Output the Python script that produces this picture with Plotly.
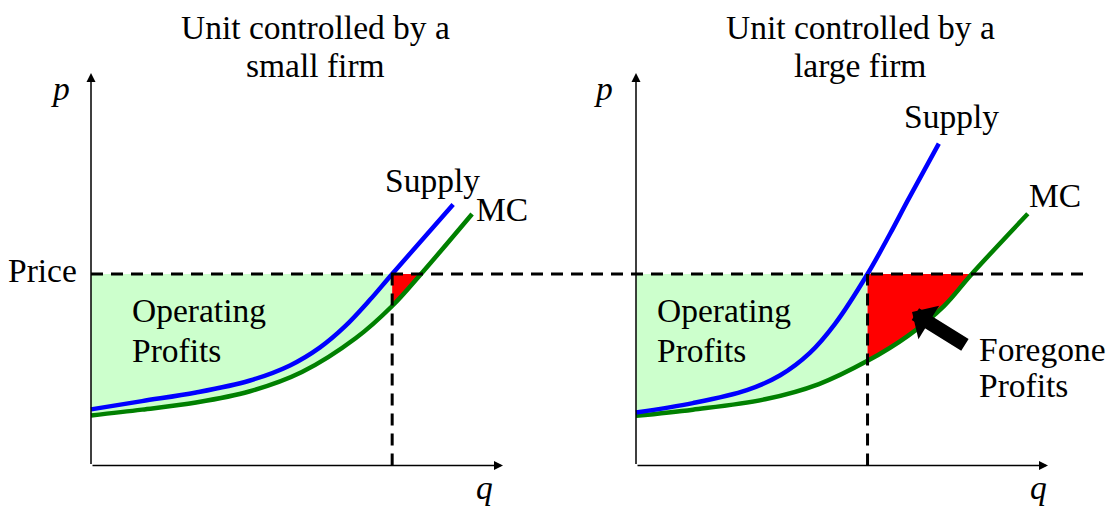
import plotly.graph_objects as go

# ---------------- data ----------------
PRICE = 4.88

# Left panel: unit controlled by a small firm
q_supply_small = [0, 1.24, 2.55, 3.84, 4.83, 5.56, 6.17, 6.77, 7.31, 8.79]
p_supply_small = [1.43, 1.64, 1.86, 2.16, 2.55, 3.01, 3.55, 4.22, 4.88, 6.65]
q_mc_small = [0, 1.24, 2.55, 3.84, 5.12, 6.43, 7.31, 8.01, 9.25]
p_mc_small = [1.276, 1.424, 1.605, 1.885, 2.382, 3.248, 4.064, 4.88, 6.408]
Q_STAR_SMALL = 7.31

# Right panel: unit controlled by a large firm
q_supply_large = [0, 1.38, 2.69, 3.50, 4.22, 4.83, 5.62, 6.17, 6.60, 7.35]
p_supply_large = [1.35, 1.59, 1.92, 2.30, 2.87, 3.61, 4.88, 5.91, 6.76, 8.20]
q_mc_large = [0, 1.38, 3.13, 4.44, 5.62, 6.60, 7.48, 8.15, 9.51]
p_mc_large = [1.266, 1.422, 1.687, 2.076, 2.667, 3.304, 4.069, 4.88, 6.413]
Q_STAR_LARGE = 5.62

AXIS_MAX_Q = 10
AXIS_MAX_P = 10
PRICE_LINE_END_Q = 10.9   # right-panel q where the dashed price line stops

titles = ["Unit controlled by a", "small firm", "large firm"]

# ---------------- layout geometry ----------------
W, H = 1112, 506
PXQ, PXP = 41.2, 39.25      # pixels per unit
X0_L, X0_R, Y0 = 91, 636, 465.5
SPLIT = 556

FONT = "Liberation Serif, Times New Roman, serif"
FS = 33.5
BLUE, GREEN, LGREEN, RED = "#0000FF", "#008000", "#CCFFCC", "#FF0000"
LW = 4.5

fig = go.Figure()


def panel(xa, ya, qs, ps, qm, pm, qstar):
    i_star = qm.index(qstar)
    i_cross = pm.index(PRICE)
    # green fill (operating profits)
    fig.add_trace(go.Scatter(x=[0, qstar], y=[PRICE, PRICE], mode="lines",
                             line=dict(width=0), xaxis=xa, yaxis=ya, hoverinfo="skip"))
    fig.add_trace(go.Scatter(x=qm[:i_star + 1], y=pm[:i_star + 1], mode="lines",
                             line=dict(width=0, shape="spline"), fill="tonexty",
                             fillcolor=LGREEN, xaxis=xa, yaxis=ya, hoverinfo="skip"))
    # red fill (foregone profits)
    fig.add_trace(go.Scatter(x=[qstar, qm[i_cross]], y=[PRICE, PRICE], mode="lines",
                             line=dict(width=0), xaxis=xa, yaxis=ya, hoverinfo="skip"))
    fig.add_trace(go.Scatter(x=qm[i_star:i_cross + 1], y=pm[i_star:i_cross + 1], mode="lines",
                             line=dict(width=0, shape="spline"), fill="tonexty",
                             fillcolor=RED, xaxis=xa, yaxis=ya, hoverinfo="skip"))
    # curves
    fig.add_trace(go.Scatter(x=qm, y=pm, mode="lines",
                             line=dict(color=GREEN, width=LW, shape="spline"),
                             xaxis=xa, yaxis=ya, hoverinfo="skip"))
    fig.add_trace(go.Scatter(x=qs, y=ps, mode="lines",
                             line=dict(color=BLUE, width=LW, shape="spline"),
                             xaxis=xa, yaxis=ya, hoverinfo="skip"))


panel("x", "y", q_supply_small, p_supply_small, q_mc_small, p_mc_small, Q_STAR_SMALL)
panel("x2", "y2", q_supply_large, p_supply_large, q_mc_large, p_mc_large, Q_STAR_LARGE)

shapes = []
DASH = "12px,8px"
for xa, ya, qstar in [("x", "y", Q_STAR_SMALL), ("x2", "y2", Q_STAR_LARGE)]:
    shapes.append(dict(type="line", xref=xa, yref=ya, x0=qstar, x1=qstar, y0=0, y1=PRICE,
                       line=dict(color="black", width=3, dash=DASH)))
shapes.append(dict(type="line", xref="paper", yref="y",
                   x0=X0_L / W, x1=(X0_R + PRICE_LINE_END_Q * PXQ) / W, y0=PRICE, y1=PRICE,
                   line=dict(color="black", width=3, dash=DASH)))

ann = []
for xa, ya in [("x", "y"), ("x2", "y2")]:
    for tip in [(AXIS_MAX_Q, 0), (0, AXIS_MAX_P)]:
        ann.append(dict(x=tip[0], y=tip[1], ax=0, ay=0, xref=xa, yref=ya, axref=xa, ayref=ya,
                        text="", showarrow=True, arrowhead=2, arrowsize=1.2,
                        arrowwidth=1.5, arrowcolor="black"))
# foregone profits arrow
ann.append(dict(x=6.70, y=3.91, ax=8.02, ay=3.05, xref="x2", yref="y2", axref="x2", ayref="y2",
                text="", showarrow=True, arrowhead=1, arrowsize=0.47, arrowwidth=14,
                arrowcolor="black"))


def label(xa, ya, x, y, text, xanchor="center", italic=False, size=FS, pad=1):
    ann.append(dict(x=x, y=y, xref=xa, yref=ya, text=text, showarrow=False,
                    xanchor=xanchor, yanchor="middle", borderpad=pad,
                    font=dict(family=FONT, size=size, color="black",
                              style="italic" if italic else "normal")))


label("x", "y", 5.44, 11.15, titles[0])
label("x", "y", 5.44, 10.18, titles[1])
label("x2", "y2", 5.44, 11.15, titles[0])
label("x2", "y2", 5.44, 10.18, titles[2])
label("x", "y", -0.75, 9.60, "p", italic=True)
label("x2", "y2", -0.80, 9.60, "p", italic=True)
label("x", "y", 9.56, -0.55, "q", italic=True, pad=0)
label("x2", "y2", 9.76, -0.55, "q", italic=True, pad=0)
label("x", "y", -0.30, PRICE + 0.08, "Price", xanchor="right")
label("x", "y", 0.95, 3.94, "Operating", xanchor="left")
label("x", "y", 0.95, 2.94, "Profits", xanchor="left")
label("x2", "y2", 0.46, 3.94, "Operating", xanchor="left")
label("x2", "y2", 0.46, 2.94, "Profits", xanchor="left")
label("x2", "y2", 8.28, 2.95, "Foregone", xanchor="left")
label("x2", "y2", 8.28, 2.03, "Profits", xanchor="left")
label("x", "y", 8.30, 7.27, "Supply")
label("x", "y", 9.30, 6.53, "MC", xanchor="left")
label("x2", "y2", 7.65, 8.90, "Supply")
label("x2", "y2", 9.49, 6.89, "MC", xanchor="left")

yr = [-(H - Y0) / PXP, Y0 / PXP]
fig.update_layout(
    width=W, height=H, margin=dict(l=0, r=0, t=0, b=0),
    paper_bgcolor="white", plot_bgcolor="white", showlegend=False,
    xaxis=dict(domain=[0, SPLIT / W], range=[-X0_L / PXQ, (SPLIT - X0_L) / PXQ],
               visible=False, fixedrange=True),
    yaxis=dict(domain=[0, 1], range=yr, visible=False, fixedrange=True),
    xaxis2=dict(domain=[SPLIT / W, 1], range=[(SPLIT - X0_R) / PXQ, (W - X0_R) / PXQ],
                visible=False, fixedrange=True, anchor="y2"),
    yaxis2=dict(domain=[0, 1], range=yr, visible=False, fixedrange=True, anchor="x2"),
    shapes=shapes, annotations=ann,
)

fig.write_html("out.html", config={"displayModeBar": False},
               post_script="document.body.style.margin='0';document.body.style.overflow='hidden';")
